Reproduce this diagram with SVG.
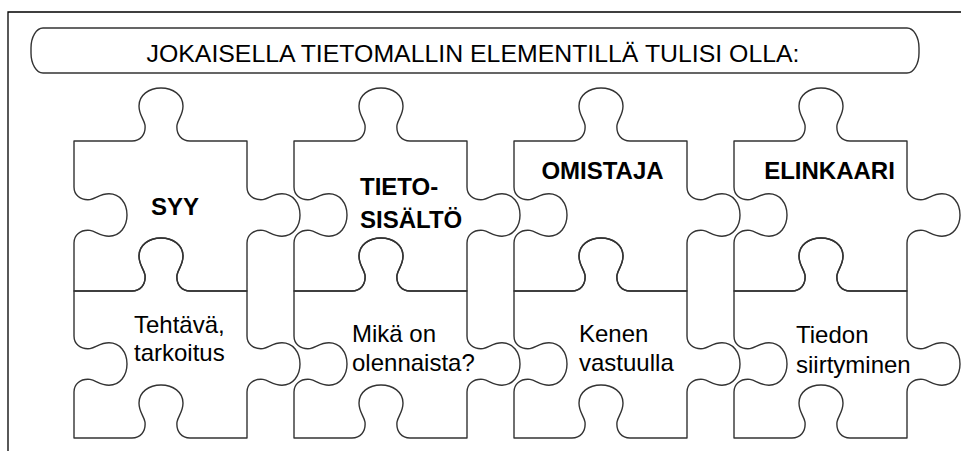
<svg xmlns="http://www.w3.org/2000/svg" xmlns:xlink="http://www.w3.org/1999/xlink" width="961" height="451" viewBox="0 0 961 451">
<style>
.frame{fill:none;stroke:#000;stroke-width:1.3}
.piece{fill:none;stroke:#333;stroke-width:1.4;stroke-linejoin:round}
.hdr{font-family:"Liberation Sans",Arial,sans-serif;font-size:24.5px;fill:#000}
.h{font-family:"Liberation Sans",Arial,sans-serif;font-size:24px;font-weight:bold;fill:#000}
.t{font-family:"Liberation Sans",Arial,sans-serif;font-size:24px;fill:#000}
</style>
<defs>
<path id="topHalf" d="M0,0 H58 C66,0 72,-6 71,-16 C70,-22 65,-26 65,-35 C65,-46 75,-53 87,-53 C99,-53 109,-46 109,-35 C109,-26 104,-22 103,-16 C102,-6 108,0 116,0 H173 V46 C173,53.7 179,59.5 189,58.6 C195,57.6 199,52.8 208,52.8 C219,52.8 226,62.4 226,74 C226,85.6 219,95.2 208,95.2 C199,95.2 195,90.4 189,89.4 C179,88.5 173,94.3 173,102 V150 H116 C108,150 102,144 103,134 C104,128 109,124 109,115 C109,104 99,97 87,97 C75,97 65,104 65,115 C65,124 70,128 71,134 C72,144 66,150 58,150 H0 V102 C0,94.3 6,88.5 16,89.4 C22,90.4 26,95.2 35,95.2 C46,95.2 53,85.6 53,74 C53,62.4 46,52.8 35,52.8 C26,52.8 22,57.6 16,58.6 C6,59.5 0,53.7 0,46 Z"/>
<path id="bottomHalf" d="M0,0 H58 C66,0 72,-6 71,-16 C70,-22 65,-26 65,-35 C65,-46 75,-53 87,-53 C99,-53 109,-46 109,-35 C109,-26 104,-22 103,-16 C102,-6 108,0 116,0 H173 V45 C173,52.7 179,58.5 189,57.6 C195,56.6 199,51.8 208,51.8 C219,51.8 226,61.4 226,73 C226,84.6 219,94.2 208,94.2 C199,94.2 195,89.4 189,88.4 C179,87.5 173,93.3 173,101 V147 H116 C108,147 102,141 103,131 C104,125 109,121 109,112 C109,101 99,94 87,94 C75,94 65,101 65,112 C65,121 70,125 71,131 C72,141 66,147 58,147 H0 V101 C0,93.3 6,87.5 16,88.4 C22,89.4 26,94.2 35,94.2 C46,94.2 53,84.6 53,73 C53,61.4 46,51.8 35,51.8 C26,51.8 22,56.6 16,57.6 C6,58.5 0,52.7 0,45 Z"/>
</defs>
<g id="frame">
<path class="frame" d="M8,451 V12 H961"/>
</g>
<g id="header">
<rect class="piece" x="31" y="28" width="888" height="45" rx="12" ry="20"/>
<text class="hdr" x="473" y="62" text-anchor="middle" textLength="653" lengthAdjust="spacingAndGlyphs">JOKAISELLA TIETOMALLIN ELEMENTILLÄ TULISI OLLA:</text>
</g>
<g id="connectors"></g>
<g id="syy">
<use href="#topHalf" xlink:href="#topHalf" class="piece" transform="translate(74,141)"/>
<text class="h" x="175" y="215" text-anchor="middle">SYY</text>
</g>
<g id="tehtava">
<use href="#bottomHalf" xlink:href="#bottomHalf" class="piece" transform="translate(74,291)"/>
<text class="t" x="134" y="333">Tehtävä,</text>
<text class="t" x="134" y="361">tarkoitus</text>
</g>
<g id="tietosisalto">
<use href="#topHalf" xlink:href="#topHalf" class="piece" transform="translate(294,141)"/>
<text class="h" x="360" y="195">TIETO-</text>
<text class="h" x="360" y="228">SISÄLTÖ</text>
</g>
<g id="mika">
<use href="#bottomHalf" xlink:href="#bottomHalf" class="piece" transform="translate(294,291)"/>
<text class="t" x="352" y="342">Mikä on</text>
<text class="t" x="352" y="371">olennaista?</text>
</g>
<g id="omistaja">
<use href="#topHalf" xlink:href="#topHalf" class="piece" transform="translate(514,141)"/>
<text class="h" x="602.5" y="179" text-anchor="middle">OMISTAJA</text>
</g>
<g id="kenen">
<use href="#bottomHalf" xlink:href="#bottomHalf" class="piece" transform="translate(514,291)"/>
<text class="t" x="579" y="342">Kenen</text>
<text class="t" x="579" y="371">vastuulla</text>
</g>
<g id="elinkaari">
<use href="#topHalf" xlink:href="#topHalf" class="piece" transform="translate(734,141)"/>
<text class="h" x="829.5" y="179" text-anchor="middle">ELINKAARI</text>
</g>
<g id="tiedon">
<use href="#bottomHalf" xlink:href="#bottomHalf" class="piece" transform="translate(734,291)"/>
<text class="t" x="796" y="343">Tiedon</text>
<text class="t" x="796" y="373">siirtyminen</text>
</g>
</svg>
